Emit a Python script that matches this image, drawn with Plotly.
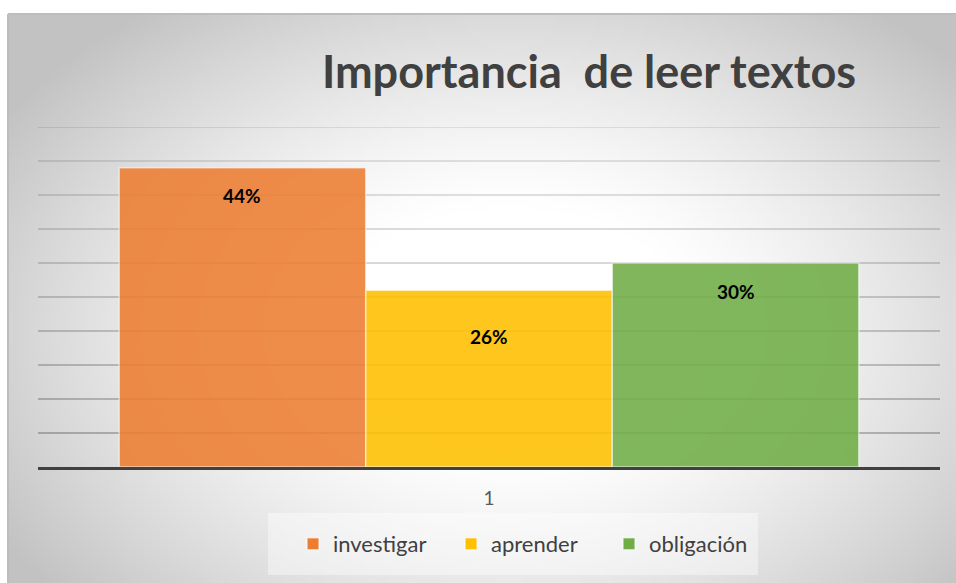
import base64
import struct
import zlib

import numpy as np
import plotly.graph_objects as go

categories = ["1"]
series_names = ["investigar", "aprender", "obligación"]
series_values = [0.44, 0.26, 0.30]
series_labels = ["44%", "26%", "30%"]
tick_values = [0.05, 0.10, 0.15, 0.20, 0.25, 0.30, 0.35, 0.40, 0.45, 0.50]

colors = ["#ED7D31", "#FFC000", "#70AD47"]
label_shift = [-28, -46, -28]
FONT = "Lato"
W, H = 956, 583
BARGAP = 0.18


def png_data_uri(rgb):
    h, w, _ = rgb.shape
    raw = b"".join(b"\x00" + rgb[i].tobytes() for i in range(h))

    def chunk(tag, data):
        c = struct.pack(">I", len(data)) + tag + data
        return c + struct.pack(">I", zlib.crc32(tag + data) & 0xFFFFFFFF)

    png = (b"\x89PNG\r\n\x1a\n"
           + chunk(b"IHDR", struct.pack(">IIBBBBB", w, h, 8, 2, 0, 0, 0))
           + chunk(b"IDAT", zlib.compress(raw, 9))
           + chunk(b"IEND", b""))
    return "data:image/png;base64," + base64.b64encode(png).decode()


# radial background gradient (chart area fill)
gx = np.linspace(8, W, 240)
gy = np.linspace(14, H, 144)
X, Y = np.meshgrid(gx, gy)
d = np.sqrt(((X - 510) / 500) ** 2 + ((Y - 330) / 340) ** 2)
t = np.clip((d - 0.35) / 0.85, 0, 1) ** 1.3
g = np.round(255 - 61 * t).astype(np.uint8)
bg_uri = png_data_uri(np.stack([g, g, g], axis=-1))

fig = go.Figure()
for name, v, c in zip(series_names, series_values, colors):
    fig.add_trace(go.Bar(
        x=categories, y=[v], name=name,
        marker=dict(color=c, opacity=0.88,
                    line=dict(color="rgba(255,255,255,0.6)", width=1.5)),
        hoverinfo="skip",
    ))

n = len(series_values)
w = (1 - BARGAP) / n
annotations = []
for i, (v, lab) in enumerate(zip(series_values, series_labels)):
    annotations.append(dict(
        x=-(1 - BARGAP) / 2 + w / 2 + i * w, y=v, xref="x", yref="y",
        text=lab, showarrow=False, yshift=label_shift[i],
        font=dict(family=FONT, size=19, color="#000000", weight="bold"),
    ))

shapes = []
for v in tick_values:
    alpha = 0.34 - (v / tick_values[-1]) * 0.22
    shapes.append(dict(
        type="line", xref="x domain", yref="y", x0=0, x1=1, y0=v, y1=v,
        line=dict(color=f"rgba(0,0,0,{alpha:.3f})", width=1.5), layer="below",
    ))
# chart-area frame (top and left edges)
shapes.append(dict(type="line", xref="paper", yref="paper",
                   x0=8 / W, x1=1, y0=1 - 14 / H, y1=1 - 14 / H,
                   line=dict(color="#bdbdbd", width=2), layer="below"))
shapes.append(dict(type="line", xref="paper", yref="paper",
                   x0=8 / W, x1=8 / W, y0=0, y1=1 - 14 / H,
                   line=dict(color="#bdbdbd", width=2), layer="below"))
# legend backdrop
shapes.append(dict(
    type="rect", xref="paper", yref="paper",
    x0=268 / W, x1=758 / W, y0=1 - 575 / H, y1=1 - 513 / H,
    fillcolor="rgba(255,255,255,0.4)", line=dict(width=0), layer="above",
))

fig.update_layout(
    width=W, height=H,
    margin=dict(l=0, r=0, t=0, b=0),
    paper_bgcolor="white", plot_bgcolor="rgba(0,0,0,0)",
    font=dict(family=FONT, color="#404040"),
    barmode="group", bargap=BARGAP, bargroupgap=0,
    images=[dict(source=bg_uri, xref="paper", yref="paper",
                 x=8 / W, y=1 - 14 / H, sizex=1 - 8 / W, sizey=1 - 14 / H,
                 xanchor="left", yanchor="top", sizing="stretch",
                 layer="below")],
    title=dict(
        text="Importancia\u00a0 de leer textos",
        x=589 / W, xanchor="center", y=1 - 72 / H, yanchor="middle",
        xref="paper", yref="paper",
        font=dict(family=FONT, size=45, color="#404040", weight="bold"),
    ),
    xaxis=dict(domain=[38 / W, 940 / W], type="category",
               showgrid=False, zeroline=False, ticks="",
               showline=True, linecolor="#404040", linewidth=3,
               tickfont=dict(family=FONT, size=19, color="#595959"),
               ticklabelstandoff=12, fixedrange=True),
    yaxis=dict(domain=[1 - 467 / H, 1 - 127 / H],
               range=[0, 0.5], showgrid=False, zeroline=False,
               showticklabels=False, ticks="", showline=False,
               fixedrange=True),
    legend=dict(orientation="h", x=530 / W, xanchor="center",
                y=1 - 544 / H, yanchor="middle",
                font=dict(family=FONT, size=22, color="#404040"),
                bgcolor="rgba(0,0,0,0)", entrywidth=113, entrywidthmode="pixels"),
    annotations=annotations,
    shapes=shapes,
)

fig.write_html("out.html", config={"displayModeBar": False},
               post_script="document.body.style.margin='0';")
